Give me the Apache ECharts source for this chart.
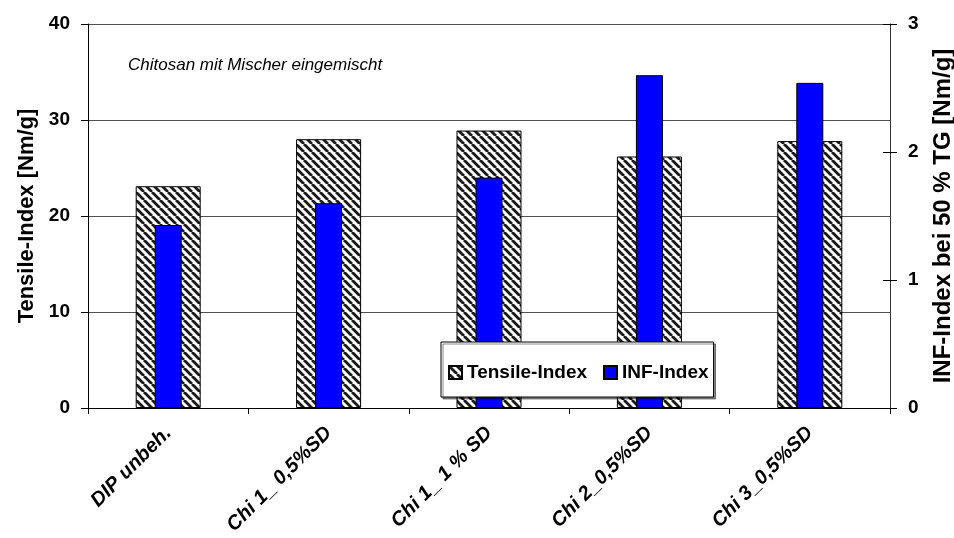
<!DOCTYPE html>
<html>
<head>
<meta charset="utf-8">
<script src="https://cdn.jsdelivr.net/npm/echarts@6/dist/echarts.min.js"></script>
<style>
  html, body { margin: 0; padding: 0; background: #fff; }
  #chart { width: 954px; height: 538px; }
</style>
</head>
<body>
<div id="chart"></div>
<script>
// Sample groups and measured values
const categories = ['DIP unbeh.', 'Chi 1_ 0,5%SD', 'Chi 1_ 1 % SD', 'Chi 2_0,5%SD', 'Chi 3_0,5%SD'];
const tensileIndex = [23.1, 28.0, 28.9, 26.2, 27.8];   // Nm/g, left axis
const infIndex = [1.43, 1.60, 1.80, 2.60, 2.54];        // Nm/g at 50 % TG, right axis
const leftTicks = { min: 0, max: 40, interval: 10 };
const rightTicks = { min: 0, max: 3, interval: 1 };

const FONT = '"Liberation Sans", Arial, Helvetica, sans-serif';

// Diagonal hatch fill for the tensile bars
function makeHatch() {
  const c = document.createElement('canvas');
  c.width = 8; c.height = 8;
  const g = c.getContext('2d');
  g.fillStyle = '#ffffff';
  g.fillRect(0, 0, 8, 8);
  g.strokeStyle = '#1a1a1a';
  g.lineWidth = 2.8;
  for (const off of [-8, 0, 8]) {
    g.beginPath();
    g.moveTo(off, 0);
    g.lineTo(off + 8, 8);
    g.stroke();
  }
  return c;
}
const hatch = { image: makeHatch(), repeat: 'repeat' };

const chart = echarts.init(document.getElementById('chart'), null, { renderer: 'canvas' });

const axisLabelStyle = { color: '#000', fontFamily: FONT, fontWeight: 'bold', fontSize: 19 };

chart.setOption({
  animation: false,
  backgroundColor: '#fff',
  grid: { left: 88, right: 64, top: 24, bottom: 130, containLabel: false, outerBoundsMode: 'none' },
  legend: {
    left: 441, top: 342,
    orient: 'horizontal',
    itemWidth: 13, itemHeight: 13, itemGap: 16,
    padding: [21, 5, 15, 7],
    backgroundColor: '#fff',
    borderColor: '#000', borderWidth: 1,
    shadowColor: 'rgba(0,0,0,0.45)', shadowBlur: 0, shadowOffsetX: 2, shadowOffsetY: 2,
    textStyle: { color: '#000', fontFamily: FONT, fontWeight: 'bold', fontSize: 19 },
    data: [
      { name: 'Tensile-Index', icon: 'rect' },
      { name: 'INF-Index', icon: 'rect' }
    ]
  },
  graphic: [{
    type: 'text', left: 128, top: 57,
    style: { text: 'Chitosan mit Mischer eingemischt', fill: '#000', font: 'italic 17px ' + FONT }
  }],
  xAxis: [{
    type: 'category', data: categories, position: 'bottom',
    axisLine: { lineStyle: { color: '#000', width: 1 } },
    axisTick: { show: true, length: 6, lineStyle: { color: '#000' } },
    axisLabel: { rotate: 45, margin: 22, interval: 0, color: '#000', fontFamily: FONT, fontWeight: 'bold', fontStyle: 'italic', fontSize: 20 }
  }, {
    type: 'category', data: categories, position: 'bottom', show: false
  }],
  yAxis: [{
    type: 'value', position: 'left', ...leftTicks,
    name: 'Tensile-Index [Nm/g]', nameLocation: 'middle', nameRotate: 90, nameGap: 50,
    nameTextStyle: { color: '#000', fontFamily: FONT, fontWeight: 'bold', fontSize: 22 },
    axisLine: { show: true, lineStyle: { color: '#000' } },
    axisTick: { show: true, inside: false, length: 7, lineStyle: { color: '#000' } },
    axisLabel: { ...axisLabelStyle, margin: 18 },
    splitLine: { show: true, lineStyle: { color: '#505050', width: 1 } }
  }, {
    type: 'value', position: 'right', ...rightTicks,
    name: 'INF-Index bei 50 % TG [Nm/g]', nameLocation: 'middle', nameRotate: 90, nameGap: 41,
    nameTextStyle: { color: '#000', fontFamily: FONT, fontWeight: 'bold', fontSize: 24 },
    axisLine: { show: true, lineStyle: { color: '#333' } },
    axisTick: { show: true, inside: false, length: 7, lineStyle: { color: '#000' } },
    axisLabel: { ...axisLabelStyle, margin: 18 },
    splitLine: { show: false }
  }, {
    // inward half of the crossing ticks on the right axis
    type: 'value', position: 'right', ...rightTicks,
    axisLine: { show: false },
    axisTick: { show: true, inside: true, length: 7, lineStyle: { color: '#000' } },
    axisLabel: { show: false },
    splitLine: { show: false }
  }],
  series: [{
    name: 'Tensile-Index', type: 'bar',
    xAxisIndex: 0, yAxisIndex: 0,
    barWidth: 65,
    data: tensileIndex,
    itemStyle: { color: hatch, borderColor: '#000', borderWidth: 1 }
  }, {
    name: 'INF-Index', type: 'bar',
    xAxisIndex: 1, yAxisIndex: 1,
    barWidth: 27,
    data: infIndex,
    itemStyle: { color: '#0000ff', borderColor: '#000', borderWidth: 1 }
  }]
});
</script>
</body>
</html>
